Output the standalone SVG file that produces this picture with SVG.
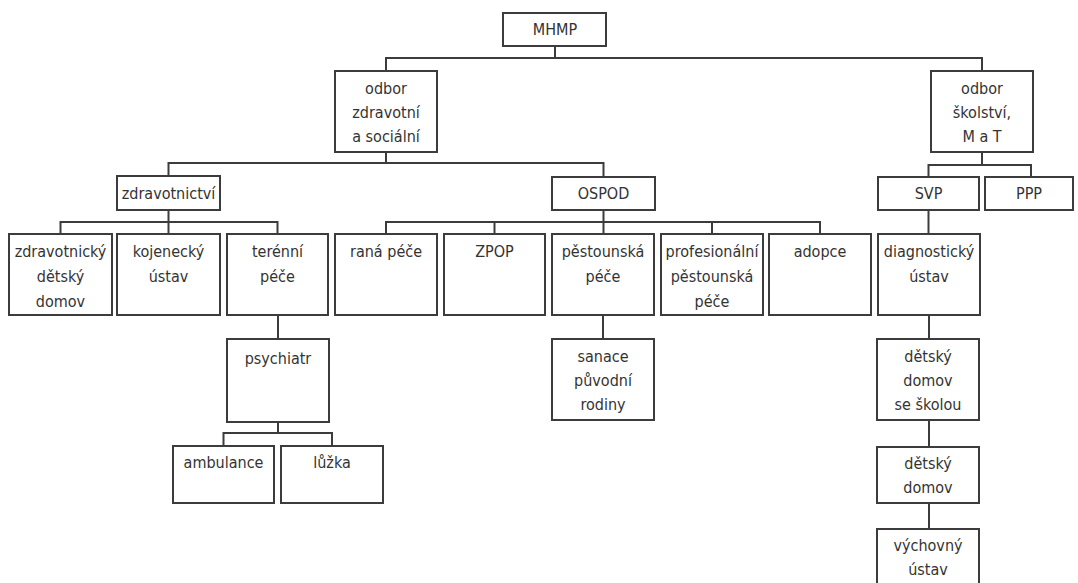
<svg xmlns="http://www.w3.org/2000/svg" width="1078" height="583" viewBox="0 0 1078 583">
<style>
rect{fill:#fff;stroke:#3c3c3c;stroke-width:2}
text{font-family:"DejaVu Sans Condensed","Liberation Sans",sans-serif;font-size:16px;fill:#333;text-anchor:middle}
#connectors path{fill:none;stroke:#3c3c3c;stroke-width:2}
</style>
<rect x="0" y="0" width="1078" height="583" style="stroke:none"/>
<g id="connectors">
<path d="M555 46V58M386 71V58H982V71"/>
<path d="M386 152V163M168.5 176V163H603.5V177"/>
<path d="M982 152V165M928.5 177V165H1031V177"/>
<path d="M168.5 210V234M60.5 234V222H277.5V234"/>
<path d="M603.5 210V234M386 234V222H820V234M494.5 222V234M712 222V234"/>
<path d="M928.5 210V234"/>
<path d="M278 315V339M278 422V433M223.5 446V433H332V446"/>
<path d="M603 315V339"/>
<path d="M929 315V339M929 420V447M929 503V529"/>
</g>
<g id="mhmp"><rect x="503" y="13" width="103" height="33"/><text x="555" y="35">MHMP</text></g>
<g id="odbor-zs"><rect x="335" y="71" width="102" height="81"/><text x="386" y="94">odbor</text><text x="386" y="118">zdravotní</text><text x="386" y="142">a sociální</text></g>
<g id="odbor-skolstvi"><rect x="931" y="71" width="102" height="81"/><text x="982" y="94">odbor</text><text x="982" y="118">školství,</text><text x="982" y="142">M a T</text></g>
<g id="zdravotnictvi"><rect x="117" y="176" width="103" height="34"/><text x="168.5" y="199">zdravotnictví</text></g>
<g id="ospod"><rect x="552" y="177" width="103" height="33"/><text x="603.5" y="199">OSPOD</text></g>
<g id="svp"><rect x="878" y="177" width="101" height="33"/><text x="928.5" y="199">SVP</text></g>
<g id="ppp"><rect x="985" y="177" width="88" height="33"/><text x="1029" y="199">PPP</text></g>
<g id="zdd"><rect x="9" y="234" width="103" height="81"/><text x="60.5" y="257">zdravotnický</text><text x="60.5" y="282">dětský</text><text x="60.5" y="307">domov</text></g>
<g id="kojenecky"><rect x="117" y="234" width="103" height="81"/><text x="168.5" y="257">kojenecký</text><text x="168.5" y="282">ústav</text></g>
<g id="terenni"><rect x="227" y="234" width="101" height="81"/><text x="277.5" y="257">terénní</text><text x="277.5" y="282">péče</text></g>
<g id="rana"><rect x="335" y="234" width="102" height="81"/><text x="386" y="257">raná péče</text></g>
<g id="zpop"><rect x="444" y="234" width="101" height="81"/><text x="494.5" y="257">ZPOP</text></g>
<g id="pestounska"><rect x="552" y="234" width="102" height="81"/><text x="603" y="257">pěstounská</text><text x="603" y="282">péče</text></g>
<g id="profesionalni"><rect x="661" y="234" width="102" height="81"/><text x="712" y="257">profesionální</text><text x="712" y="282">pěstounská</text><text x="712" y="307">péče</text></g>
<g id="adopce"><rect x="769" y="234" width="102" height="81"/><text x="820" y="257">adopce</text></g>
<g id="diagnosticky"><rect x="878" y="234" width="102" height="81"/><text x="929" y="257">diagnostický</text><text x="929" y="282">ústav</text></g>
<g id="psychiatr"><rect x="227" y="339" width="102" height="83"/><text x="278" y="364">psychiatr</text></g>
<g id="sanace"><rect x="552" y="339" width="102" height="81"/><text x="603" y="362">sanace</text><text x="603" y="386">původní</text><text x="603" y="410">rodiny</text></g>
<g id="ddss"><rect x="877" y="339" width="102" height="81"/><text x="928" y="362">dětský</text><text x="928" y="386">domov</text><text x="928" y="410">se školou</text></g>
<g id="ambulance"><rect x="173" y="446" width="101" height="57"/><text x="223.5" y="468">ambulance</text></g>
<g id="luzka"><rect x="281" y="446" width="102" height="57"/><text x="332" y="468">lůžka</text></g>
<g id="dd"><rect x="877" y="447" width="102" height="56"/><text x="928" y="469">dětský</text><text x="928" y="493">domov</text></g>
<g id="vychovny"><rect x="877" y="529" width="102" height="60"/><text x="928" y="551">výchovný</text><text x="928" y="575">ústav</text></g>
</svg>
